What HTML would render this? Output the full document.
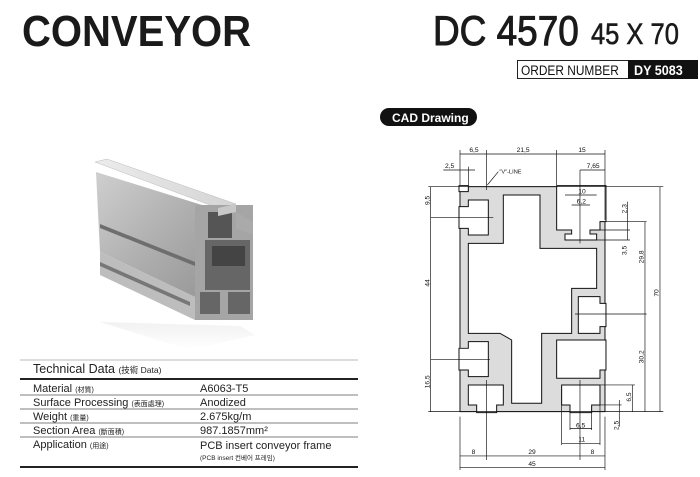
<!DOCTYPE html>
<html><head><meta charset="utf-8"><style>
html,body{margin:0;padding:0;background:#fff;}
svg{display:block}
text{font-family:"Liberation Sans","Noto Sans CJK KR",sans-serif;}
</style></head><body>
<svg width="700" height="477" viewBox="0 0 700 477" xmlns="http://www.w3.org/2000/svg">
<defs>
<linearGradient id="gs" x1="0" y1="0" x2="1" y2="1"><stop offset="0" stop-color="#cfcfcf"/><stop offset="0.5" stop-color="#b0b0b0"/><stop offset="1" stop-color="#959595"/></linearGradient>
<linearGradient id="gt" x1="0" y1="0" x2="1" y2="0"><stop offset="0" stop-color="#ececec"/><stop offset="1" stop-color="#d4d4d4"/></linearGradient>
<linearGradient id="gr" x1="0" y1="0" x2="0" y2="1"><stop offset="0" stop-color="#ddd"/><stop offset="1" stop-color="#fff"/></linearGradient>
</defs>
<text x="22" y="46" font-size="44" font-weight="bold" fill="#1a1a1a" transform="translate(22 0) scale(0.91 1) translate(-22 0)">CONVEYOR</text>
<text x="433" y="45" font-size="42" fill="#1a1a1a" stroke="#1a1a1a" stroke-width="1" transform="translate(433 0) scale(0.88 1) translate(-433 0)">DC 4570</text>
<text x="591" y="44" font-size="30" fill="#1a1a1a" stroke="#1a1a1a" stroke-width="0.6" transform="translate(591 0) scale(0.85 1) translate(-591 0)">45 X 70</text>
<rect x="517.5" y="60.5" width="180" height="18" fill="#fff" stroke="#222"/>
<rect x="628" y="60" width="70" height="19" fill="#111"/>
<text x="521" y="75" font-size="14" fill="#111" transform="translate(521 0) scale(0.85 1) translate(-521 0)">ORDER NUMBER</text>
<text x="634" y="75" font-size="14" font-weight="bold" fill="#fff" transform="translate(634 0) scale(0.9 1) translate(-634 0)">DY 5083</text>
<rect x="380" y="108" width="97" height="18" rx="9" fill="#111"/>
<text x="392" y="122" font-size="12" font-weight="bold" fill="#fff">CAD Drawing</text>

<path d="M100 322 L190 350 L255 335 L240 326 Z" fill="url(#gr)" opacity="0.4"/>
<polygon points="95,162 107,159 236,204 218,208" fill="url(#gt)" stroke="#bbb" stroke-width="0.5"/>
<polygon points="96,172 218,210 218,212 195,215 195,297 100,252" fill="url(#gs)"/>
<polygon points="100,224 195,262 195,266 100,228" fill="#6e6e6e"/>
<polygon points="100,252 195,297 195,320 100,275" fill="#bdbdbd"/>
<polygon points="100,262 190,302 190,306 100,266" fill="#777"/>
<rect x="195" y="205" width="58" height="115" fill="#a5a5a5"/>
<rect x="208" y="212" width="24" height="26" fill="#555"/>
<rect x="205" y="240" width="45" height="50" fill="#666"/>
<rect x="212" y="246" width="33" height="20" fill="#444"/>
<rect x="200" y="292" width="20" height="22" fill="#666"/>
<rect x="228" y="292" width="22" height="22" fill="#666"/>
<polygon points="218,208 236,204 236,212 218,216" fill="#c8c8c8"/>
<polygon points="236,212 253,222 253,235 236,228" fill="#aaa"/>

<line x1="20" y1="360" x2="358" y2="360" stroke="#bbb"/>
<text x="33" y="373" font-size="12.5" fill="#222">Technical Data <tspan font-size="8.5">(技術  Data)</tspan></text>
<line x1="20" y1="379" x2="358" y2="379" stroke="#222" stroke-width="2"/>
<g font-size="11" fill="#222">
<text x="33" y="392">Material <tspan font-size="7">(材質)</tspan></text>
<text x="200" y="392">A6063-T5</text>
<line x1="20" y1="395" x2="358" y2="395" stroke="#555" stroke-width="0.8"/>
<text x="33" y="406">Surface Processing <tspan font-size="7">(表面處理)</tspan></text>
<text x="200" y="406">Anodized</text>
<line x1="20" y1="409" x2="358" y2="409" stroke="#555" stroke-width="0.8"/>
<text x="33" y="420">Weight <tspan font-size="7">(重量)</tspan></text>
<text x="200" y="420">2.675kg/m</text>
<line x1="20" y1="423" x2="358" y2="423" stroke="#555" stroke-width="0.8"/>
<text x="33" y="434">Section Area <tspan font-size="7">(斷面積)</tspan></text>
<text x="200" y="434">987.1857mm²</text>
<line x1="20" y1="437" x2="358" y2="437" stroke="#555" stroke-width="0.8"/>
<text x="33" y="448">Application <tspan font-size="7">(用途)</tspan></text>
<text x="200" y="449">PCB insert conveyor frame</text>
<text x="200" y="460" font-size="6.5">(PCB insert 컨베어 프레임)</text>
</g>
<line x1="20" y1="467" x2="358" y2="467" stroke="#222" stroke-width="2"/>

<g transform="translate(400 140) scale(0.3333)" stroke="#111" stroke-width="3" fill="none">
<rect x="180" y="140" width="435" height="675" fill="#dcdcdc"/>
<polygon fill="#fff" points="310,165 420,165 420,325 590,325 590,445 515,445 515,580 425,580 425,790 335,790 335,600 300,580 205,580 205,310 310,310"/>
<polygon fill="#fff" points="177,200 205,200 205,180 265,180 265,285 205,285 205,265 177,265"/>
<polygon fill="#fff" points="177,625 205,625 205,605 265,605 265,710 205,710 205,690 177,690"/>
<polygon fill="#fff" points="618,490 600,490 600,470 535,470 535,580 600,580 600,560 618,560"/>
<polygon fill="#fff" points="470,137 470,270 515,270 515,282 495,282 495,300 590,300 590,282 570,282 570,270 600,270 600,245 618,245 618,137"/>
<polygon fill="#fff" points="618,600 470,600 470,715 600,715 600,690 618,690"/>
<polygon fill="#fff" points="510,818 510,795 485,795 485,735 600,735 600,795 575,795 575,818"/>
<polygon fill="#fff" points="230,818 230,795 205,795 205,735 310,735 310,795 290,795 290,818"/>
<polygon fill="#fff" points="177,137 177,155 205,155 205,137"/>
<g stroke-width="2">
<line x1="180" y1="30" x2="180" y2="135"/><line x1="260" y1="30" x2="260" y2="150"/><line x1="470" y1="30" x2="470" y2="135"/><line x1="615" y1="30" x2="615" y2="240"/>
<line x1="180" y1="42" x2="615" y2="42"/>
<line x1="130" y1="90" x2="225" y2="90"/><line x1="205" y1="80" x2="205" y2="150"/>
<line x1="540" y1="90" x2="615" y2="90"/><line x1="540" y1="90" x2="540" y2="310"/>
<line x1="495" y1="165" x2="590" y2="165"/><line x1="515" y1="195" x2="570" y2="195"/>
<line x1="85" y1="140" x2="790" y2="140"/><line x1="85" y1="815" x2="790" y2="815"/>
<line x1="92" y1="140" x2="92" y2="815"/><line x1="780" y1="140" x2="780" y2="815"/>
<line x1="92" y1="232" x2="280" y2="232"/><line x1="92" y1="658" x2="270" y2="658"/>
<line x1="600" y1="245" x2="740" y2="245"/><line x1="735" y1="245" x2="735" y2="815"/>
<line x1="525" y1="522" x2="740" y2="522"/>
<line x1="600" y1="270" x2="690" y2="270"/><line x1="590" y1="300" x2="690" y2="300"/><line x1="683" y1="185" x2="683" y2="300"/>
<line x1="600" y1="735" x2="705" y2="735"/><line x1="697" y1="735" x2="697" y2="815"/>
<line x1="575" y1="795" x2="665" y2="795"/><line x1="658" y1="780" x2="658" y2="860"/>
<line x1="180" y1="830" x2="180" y2="990"/><line x1="260" y1="720" x2="260" y2="960"/><line x1="540" y1="720" x2="540" y2="960"/><line x1="615" y1="830" x2="615" y2="990"/>
<line x1="180" y1="948" x2="615" y2="948"/><line x1="180" y1="982" x2="615" y2="982"/>
<line x1="510" y1="800" x2="510" y2="870"/><line x1="575" y1="800" x2="575" y2="870"/><line x1="510" y1="866" x2="575" y2="866"/>
<line x1="485" y1="740" x2="485" y2="915"/><line x1="600" y1="740" x2="600" y2="915"/><line x1="485" y1="910" x2="600" y2="910"/>
<line x1="262" y1="135" x2="295" y2="95"/>
</g>
<g fill="#111" stroke="none" font-size="20">
<text x="208" y="36">6,5</text><text x="350" y="36">21,5</text><text x="535" y="36">15</text>
<text x="135" y="84">2,5</text><text x="560" y="84">7,65</text><text x="298" y="100" font-size="17">"V"-LINE</text>
<text x="535" y="160">10</text><text x="530" y="190">6,2</text>
<text x="385" y="942">29</text><text x="215" y="942">8</text><text x="572" y="942">8</text><text x="385" y="978">45</text>
<text x="528" y="862">6,5</text><text x="535" y="905">11</text>
<text transform="translate(88 195) rotate(-90)">9,5</text>
<text transform="translate(88 440) rotate(-90)">44</text>
<text transform="translate(88 745) rotate(-90)">16,5</text>
<text transform="translate(775 470) rotate(-90)">70</text>
<text transform="translate(730 370) rotate(-90)">29,8</text>
<text transform="translate(730 670) rotate(-90)">30,2</text>
<text transform="translate(680 220) rotate(-90)">2,3</text>
<text transform="translate(680 345) rotate(-90)">3,5</text>
<text transform="translate(693 785) rotate(-90)">6,5</text>
<text transform="translate(655 870) rotate(-90)">2,5</text>
</g>
</g>
</svg>
</body></html>
